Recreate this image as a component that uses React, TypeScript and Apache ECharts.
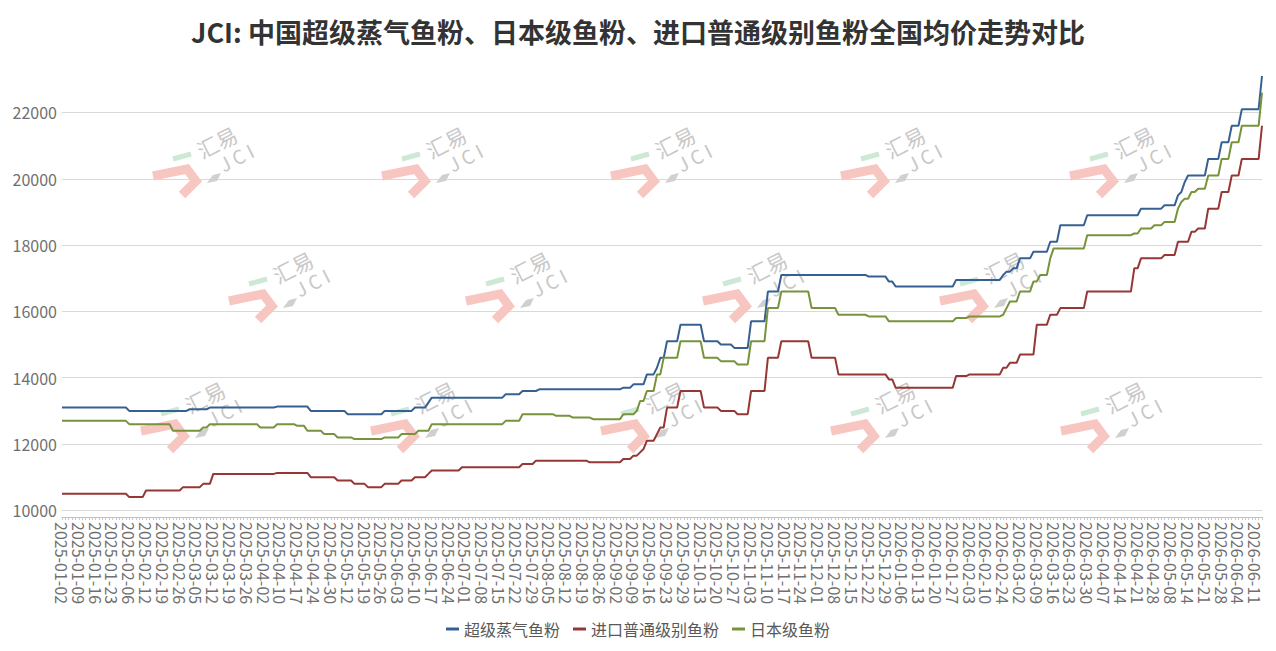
import React, { useEffect, useRef } from 'react';
import * as echarts from 'echarts';

// ---------- categories (Chinese working days) ----------
const START = [2025, 0, 2];
const CATEGORY_COUNT = 358;
const HOLIDAYS = [
  '2025-01-01', '2025-01-28', '2025-01-29', '2025-01-30', '2025-01-31', '2025-02-03', '2025-02-04',
  '2025-04-04', '2025-05-01', '2025-05-02', '2025-05-05', '2025-06-02',
  '2025-10-01', '2025-10-02', '2025-10-03', '2025-10-06', '2025-10-07', '2025-10-08',
  '2026-01-01', '2026-01-02', '2026-02-16', '2026-02-17', '2026-02-18', '2026-02-19', '2026-02-20',
  '2026-02-23', '2026-04-06', '2026-05-01', '2026-05-04', '2026-05-05', '2026-06-19',
];
const MAKEUP_WORKDAYS = [
  '2025-01-26', '2025-02-08', '2025-04-27', '2025-09-28', '2025-10-11',
  '2026-01-04', '2026-02-14', '2026-02-28', '2026-05-09',
];

// ---------- series values: [start index, value] held until the next entry ----------
const SUPER_STEAM = [
  [0, 13100], [20, 13000], [38, 13050], [44, 13100], [64, 13130], [74, 13000], [85, 12900],
  [96, 13000], [105, 13100], [109, 13250], [110, 13400], [132, 13500], [137, 13600], [142, 13650],
  [167, 13700], [170, 13800], [174, 14100], [177, 14300], [178, 14600], [180, 15100], [184, 15600],
  [191, 15100], [196, 15000], [200, 14900], [205, 15700], [210, 16600], [214, 17100], [240, 17050],
  [246, 16900], [248, 16750], [266, 16950], [280, 17100], [281, 17200], [283, 17300], [285, 17600],
  [289, 17800], [294, 18100], [297, 18600], [305, 18900], [321, 19100], [328, 19200], [332, 19500],
  [333, 19600], [334, 19900], [335, 20100], [341, 20600], [345, 21100], [348, 21600], [351, 22100],
  [357, 23100],
];
const IMPORT_STANDARD = [
  [0, 10500], [20, 10400], [25, 10600], [36, 10700], [42, 10800], [45, 11100], [64, 11130],
  [74, 11000], [82, 10900], [87, 10800], [91, 10700], [96, 10800], [101, 10900], [105, 11000],
  [109, 11100], [110, 11200], [119, 11300], [137, 11400], [141, 11500], [157, 11450], [167, 11550],
  [170, 11650], [172, 11750], [173, 11850], [174, 12100], [177, 12300], [178, 12500], [180, 13100],
  [184, 13600], [191, 13100], [196, 13000], [201, 12900], [205, 13600], [210, 14600], [214, 15100],
  [223, 14600], [231, 14100], [246, 13950], [248, 13700], [266, 14050], [270, 14100], [280, 14300],
  [282, 14450], [285, 14700], [290, 15600], [294, 15900], [297, 16100], [305, 16600], [319, 17300],
  [321, 17600], [328, 17700], [332, 18100], [336, 18400], [338, 18500], [341, 19100], [345, 19600],
  [348, 20100], [351, 20600], [357, 21600],
];
const JAPAN_GRADE = [
  [0, 12700], [20, 12600], [33, 12400], [42, 12500], [44, 12600], [59, 12500], [64, 12600],
  [70, 12550], [73, 12400], [78, 12300], [82, 12200], [87, 12150], [96, 12200], [101, 12300],
  [106, 12400], [110, 12600], [132, 12700], [137, 12900], [147, 12850], [152, 12800], [158, 12750],
  [167, 12900], [171, 13000], [172, 13300], [174, 13600], [177, 14100], [179, 14600], [184, 15100],
  [191, 14600], [196, 14500], [201, 14400], [205, 15100], [210, 16100], [214, 16600], [223, 16100],
  [231, 15900], [240, 15850], [246, 15700], [266, 15800], [270, 15850], [280, 15900], [281, 16100],
  [282, 16300], [285, 16600], [289, 16900], [291, 17100], [294, 17600], [295, 17900], [305, 18300],
  [319, 18350], [321, 18500], [325, 18600], [328, 18700], [332, 19100], [333, 19300], [334, 19400],
  [336, 19600], [338, 19700], [341, 20100], [345, 20600], [348, 21100], [351, 21600], [357, 22600],
];

const SERIES_NAMES = ['超级蒸气鱼粉', '进口普通级别鱼粉', '日本级鱼粉'];
const SERIES_COLORS = ['#376092', '#953735', '#77933c'];
const TITLE = 'JCI: 中国超级蒸气鱼粉、日本级鱼粉、进口普通级别鱼粉全国均价走势对比';

// watermark layout (hook top-left corners)
const WM_ROWS = [
  { y: 165, xs: [150, 379, 608, 838, 1067] },
  { y: 290, xs: [226, 463, 700, 937] },
  { y: 420, xs: [138, 368, 598, 828, 1058] },
];

const FONT = '"Noto Sans CJK SC", "Noto Sans", sans-serif';

function buildDates(): string[] {
  const out: string[] = [];
  const d = new Date(Date.UTC(START[0], START[1], START[2]));
  while (out.length < CATEGORY_COUNT) {
    const s = d.toISOString().slice(0, 10);
    const wd = d.getUTCDay();
    const weekend = wd === 0 || wd === 6;
    if ((!weekend && HOLIDAYS.indexOf(s) < 0) || MAKEUP_WORKDAYS.indexOf(s) >= 0) out.push(s);
    d.setUTCDate(d.getUTCDate() + 1);
  }
  return out;
}

function expandSteps(steps: number[][], n: number): number[] {
  const out: number[] = [];
  let k = 0;
  for (let i = 0; i < n; i++) {
    while (k + 1 < steps.length && steps[k + 1][0] <= i) k++;
    out.push(steps[k][1]);
  }
  return out;
}

function watermark(hx: number, hy: number): any[] {
  return [
    {
      type: 'polyline', z: 1, silent: true,
      shape: { points: [[hx + 3, hy + 11], [hx + 37, hy + 4], [hx + 46, hy + 16], [hx + 32, hy + 30]] },
      style: { stroke: '#f8c6c0', lineWidth: 9, fill: null, lineJoin: 'miter' },
    },
    {
      type: 'polyline', z: 1, silent: true,
      shape: { points: [[hx + 23, hy - 6], [hx + 41, hy - 11]] },
      style: { stroke: '#cde8d5', lineWidth: 5, fill: null },
    },
    {
      type: 'polygon', z: 1, silent: true,
      shape: { points: [[hx + 57, hy + 18], [hx + 63, hy + 10], [hx + 71, hy + 8], [hx + 67, hy + 16]] },
      style: { fill: '#d0d0d0' },
    },
    {
      type: 'text', z: 1, silent: true, x: hx + 67, y: hy - 23, rotation: 0.47,
      style: { text: '汇易', fontSize: 21, fontFamily: FONT, fill: '#c8c8c8', align: 'center', verticalAlign: 'middle' },
    },
    {
      type: 'text', z: 1, silent: true, x: hx + 86, y: hy - 8, rotation: 0.47,
      style: { text: 'J C I', fontSize: 19, fontFamily: FONT, fill: '#c8c8c8', align: 'center', verticalAlign: 'middle' },
    },
  ];
}

export default function App() {
  const ref = useRef<HTMLDivElement>(null);
  useEffect(() => {
    if (!ref.current) return;
    const chart = echarts.init(ref.current, undefined, { renderer: 'svg' });
    const dates = buildDates();
    const data = [SUPER_STEAM, IMPORT_STANDARD, JAPAN_GRADE].map((s) => expandSteps(s, dates.length));
    const graphics: any[] = [];
    WM_ROWS.forEach((r) => r.xs.forEach((x) => graphics.push(...watermark(x, r.y))));

    chart.setOption({
      animation: false,
      backgroundColor: '#ffffff',
      title: {
        text: TITLE,
        left: 'center',
        top: 13,
        textStyle: { fontSize: 27, fontWeight: 'bold', color: '#333333', fontFamily: FONT },
      },
      legend: {
        data: SERIES_NAMES,
        left: 'center',
        top: 616,
        icon: 'rect',
        itemWidth: 13,
        itemHeight: 3,
        itemGap: 13,
        textStyle: { fontSize: 16, color: '#595959', fontFamily: FONT },
      },
      grid: { left: 62, right: 14, top: 76, bottom: 134, containLabel: false },
      xAxis: {
        type: 'category',
        data: dates,
        boundaryGap: false,
        axisLine: { lineStyle: { color: '#bfbfbf' } },
        axisTick: { show: true, interval: 0, length: 3, lineStyle: { color: '#c8c8c8' } },
        axisLabel: { interval: 4, rotate: -90, margin: 5, fontSize: 16, color: '#707070', fontFamily: FONT },
        splitLine: { show: false },
      },
      yAxis: {
        type: 'value',
        min: 9800,
        max: 'dataMax',
        splitNumber: 7,
        minInterval: 2000,
        maxInterval: 2000,
        axisLine: { show: false },
        axisTick: { show: false },
        axisLabel: {
          margin: 5,
          fontSize: 16,
          color: '#707070',
          fontFamily: FONT,
          formatter: (v: number) => (v % 2000 === 0 ? String(v) : ''),
        },
        splitLine: { show: true, showMinLine: false, showMaxLine: false, lineStyle: { color: '#d9d9d9', width: 1 } },
      },
      graphic: graphics,
      series: SERIES_NAMES.map((name, i) => ({
        name,
        type: 'line',
        data: data[i],
        symbol: 'none',
        z: 3,
        lineStyle: { color: SERIES_COLORS[i], width: 2 },
        itemStyle: { color: SERIES_COLORS[i] },
      })),
    });
    return () => chart.dispose();
  }, []);
  return <div ref={ref} style={{ position: 'fixed', left: 0, top: 0, width: 1276, height: 651 }} />;
}
